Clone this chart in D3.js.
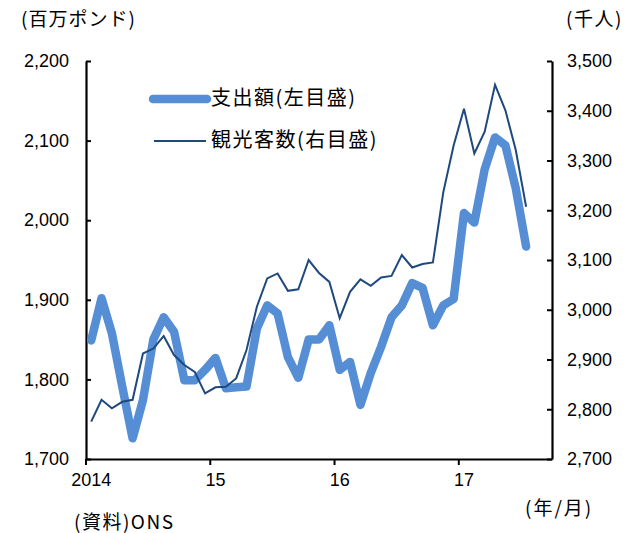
<!DOCTYPE html>
<html><head><meta charset="utf-8">
<script src="https://cdn.jsdelivr.net/npm/d3@7"></script>
<style>
body{margin:0;background:#fff;}
text{font-family:"Liberation Sans",Arial,sans-serif;}
.jp{font-family:"Noto Sans CJK JP","Noto Sans",sans-serif;}
</style></head>
<body><svg id="c" width="630" height="533"></svg>
<script>
const months = ["2014/01","2014/02","2014/03","2014/04","2014/05","2014/06","2014/07","2014/08","2014/09","2014/10","2014/11","2014/12",
"2015/01","2015/02","2015/03","2015/04","2015/05","2015/06","2015/07","2015/08","2015/09","2015/10","2015/11","2015/12",
"2016/01","2016/02","2016/03","2016/04","2016/05","2016/06","2016/07","2016/08","2016/09","2016/10","2016/11","2016/12",
"2017/01","2017/02","2017/03","2017/04","2017/05","2017/06","2017/07","2017/08","2017/09"];
const yearLabels = ["2014","15","16","17"];
const yearStartMonths = ["2014/01","2015/01","2016/01","2017/01"];
const spending = [1849,1902,1858,1791,1726,1774,1850,1878,1860,1799,1799,1812,1827,1789,1790,1791,1864,1893,1883,1828,1802,1850,1850,1868,1812,1822,1768,1808,1841,1878,1893,1921,1915,1868,1893,1901,2009,1997,2064,2104,2094,2040,1967];
const visitors = [2775,2819,2802,2815,2819,2912,2922,2947,2909,2889,2875,2832,2844,2845,2862,2919,3006,3063,3073,3038,3041,3100,3074,3056,2983,3036,3061,3048,3065,3068,3110,3085,3092,3095,3236,3330,3404,3314,3358,3452,3401,3321,3207];
const leftTicks = [1700,1800,1900,2000,2100,2200];
const rightTicks = [2700,2800,2900,3000,3100,3200,3300,3400,3500];
const seriesNames = ["支出額(左目盛)","観光客数(右目盛)"];

const svg = d3.select("#c");
const L = 86, R = 552, T = 61, B = 459;
const x = d3.scaleBand().domain(months).range([L, R]);
const yL = d3.scaleLinear().domain([1700,2200]).range([B,T]);
const yR = d3.scaleLinear().domain([2700,3500]).range([B,T]);
const fmt = d3.format(",");

// axes
const gL = svg.append("g").attr("transform",`translate(${L},0)`)
  .call(d3.axisLeft(yL).tickValues(leftTicks).tickFormat(fmt).tickSizeInner(-5).tickSizeOuter(0).tickPadding(17));
const gR = svg.append("g").attr("transform",`translate(${R},0)`)
  .call(d3.axisRight(yR).tickValues(rightTicks).tickFormat(fmt).tickSizeInner(-5).tickSizeOuter(0).tickPadding(15));
const gB = svg.append("g").attr("transform",`translate(0,${B})`)
  .call(d3.axisBottom(x).tickValues(yearStartMonths).tickFormat((d,i)=>yearLabels[i]).tickSize(0).tickPadding(14));
// year boundary ticks
gB.selectAll(".yt").data(yearStartMonths).join("line").attr("class","yt")
  .attr("x1",d=>x(d)).attr("x2",d=>x(d)).attr("y1",0).attr("y2",6)
  .attr("stroke","#000").attr("stroke-width",2);
[gL,gR,gB].forEach(g=>{
  g.select(".domain").attr("stroke","#000").attr("stroke-width",2.2);
  g.selectAll(".tick line").attr("stroke","#000").attr("stroke-width",2);
  g.selectAll(".tick text").attr("font-size",18).attr("fill","#000")
   .attr("font-family","'Liberation Sans',Arial,sans-serif");
});
gB.selectAll(".tick text").attr("dy","0.71em");

// lines
const lineL = d3.line().x((d,i)=>x(months[i])+x.bandwidth()/2).y(d=>yL(d));
const lineR = d3.line().x((d,i)=>x(months[i])+x.bandwidth()/2).y(d=>yR(d));
svg.append("path").datum(spending).attr("d",lineL).attr("fill","none")
  .attr("stroke","#558ED5").attr("stroke-width",8.5).attr("stroke-linejoin","round").attr("stroke-linecap","round");
svg.append("path").datum(visitors).attr("d",lineR).attr("fill","none")
  .attr("stroke","#1F497D").attr("stroke-width",2).attr("stroke-linejoin","miter");

// legend
const leg = svg.append("g");
leg.append("line").attr("x1",153).attr("x2",207).attr("y1",99).attr("y2",99)
  .attr("stroke","#558ED5").attr("stroke-width",8.5).attr("stroke-linecap","round");
leg.append("line").attr("x1",154).attr("x2",206).attr("y1",141).attr("y2",141)
  .attr("stroke","#1F497D").attr("stroke-width",2);
leg.append("text").attr("class","jp").attr("x",211).attr("y",98).attr("dy","0.36em")
  .attr("font-size",20).attr("letter-spacing",1.5).text(seriesNames[0]);
leg.append("text").attr("class","jp").attr("x",211).attr("y",140).attr("dy","0.36em")
  .attr("font-size",20).attr("letter-spacing",1.5).text(seriesNames[1]);

// titles & notes
svg.append("text").attr("class","jp").attr("x",21).attr("y",19).attr("dy","0.36em").attr("font-size",19).attr("letter-spacing",1).text("(百万ポンド)");
svg.append("text").attr("class","jp").attr("x",566).attr("y",19).attr("dy","0.36em").attr("font-size",19).attr("letter-spacing",1.5).text("(千人)");
svg.append("text").attr("class","jp").attr("x",525).attr("y",508).attr("dy","0.36em").attr("font-size",19).attr("letter-spacing",2).text("(年/月)");
svg.append("text").attr("class","jp").attr("x",74).attr("y",522).attr("dy","0.36em").attr("font-size",19).attr("letter-spacing",1.5).text("(資料)ONS");
</script></body></html>
